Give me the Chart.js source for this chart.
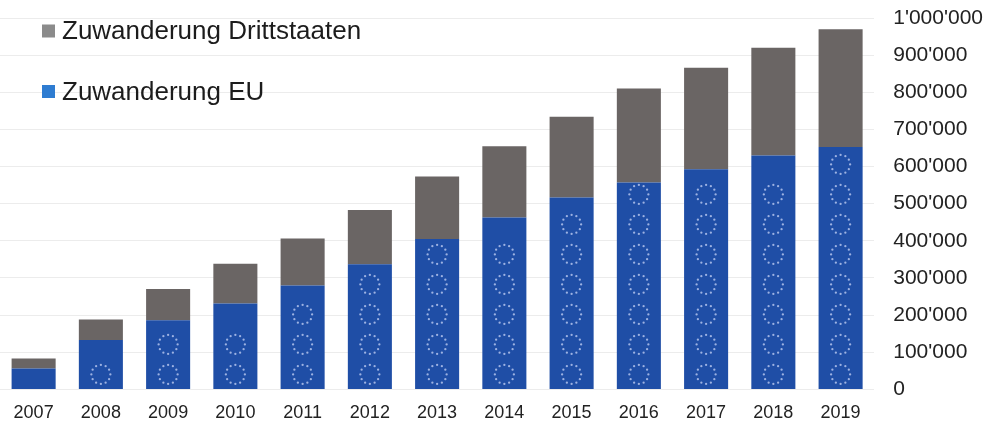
<!DOCTYPE html>
<html>
<head>
<meta charset="utf-8">
<script src="https://cdn.jsdelivr.net/npm/chart.js@4"></script>
<style>
  html, body { margin: 0; padding: 0; background: #ffffff; }
  #wrap { width: 1003px; height: 425px; position: relative; }
</style>
</head>
<body>
<div id="wrap"><canvas id="c"></canvas></div>
<script>
const years = ['2007','2008','2009','2010','2011','2012','2013','2014','2015','2016','2017','2018','2019'];
const euValues = [56000,133000,186000,231000,280000,337000,405000,463000,517000,557000,593000,630000,653000];
const drittValues = [27000,55000,84000,107000,126000,146000,168000,192000,217000,253000,273000,290000,317000];
const seriesLabels = ['Zuwanderung EU', 'Zuwanderung Drittstaaten'];
const yMin = 0, yMax = 1000000, yStep = 100000;

function fmt(v) {
  return String(v).replace(/\B(?=(\d{3})+(?!\d))/g, "'");
}

const euStars = {
  id: 'euStars',
  afterDatasetsDraw(chart) {
    const meta = chart.getDatasetMeta(0);
    const ctx = chart.ctx;
    ctx.save();
    ctx.fillStyle = '#9db2e2';
    meta.data.forEach(el => {
      const p = el.getProps(['x', 'y', 'base', 'width'], true);
      const ringR = 9.5;
      let cy = p.base - 14.5;
      while (cy - ringR - 1.5 >= p.y) {
        for (let i = 0; i < 12; i++) {
          const a = i * Math.PI / 6;
          ctx.beginPath();
          ctx.arc(p.x + ringR * Math.cos(a), cy + ringR * Math.sin(a), 1.15, 0, Math.PI * 2);
          ctx.fill();
        }
        cy -= 30;
      }
    });
    ctx.restore();
  }
};

const sideLegend = {
  id: 'sideLegend',
  afterDraw(chart, args, opts) {
    const ctx = chart.ctx;
    ctx.save();
    ctx.font = '26px "Liberation Sans", Arial, sans-serif';
    ctx.textBaseline = 'middle';
    ctx.textAlign = 'left';
    const order = [1, 0];
    order.forEach((di, row) => {
      const ds = chart.data.datasets[di];
      const cy = 31 + row * 60.5;
      ctx.fillStyle = opts.colors[di];
      ctx.fillRect(42, cy - 6.5, 13, 13);
      ctx.fillStyle = '#1c1c1c';
      ctx.fillText(ds.label, 62, cy + 1);
    });
    ctx.restore();
  }
};

new Chart(document.getElementById('c'), {
  type: 'bar',
  data: {
    labels: years,
    datasets: [
      { label: seriesLabels[0], data: euValues, backgroundColor: '#1f4ea6', borderWidth: 0 },
      { label: seriesLabels[1], data: drittValues, backgroundColor: '#6a6564', borderWidth: 0 }
    ]
  },
  plugins: [euStars, sideLegend],
  options: {
    responsive: true,
    maintainAspectRatio: false,
    animation: false,
    layout: { padding: { left: -2, right: 20, top: 18, bottom: -12 } },
    datasets: { bar: { barPercentage: 0.655, categoryPercentage: 1.0 } },
    plugins: {
      legend: { display: false },
      tooltip: { enabled: false },
      sideLegend: { colors: ['#2e7cd1', '#8b8b8b'] }
    },
    scales: {
      x: {
        stacked: true,
        grid: { display: false, drawTicks: false },
        border: { display: false },
        ticks: {
          color: '#222222',
          padding: 13,
          font: { family: '"Liberation Sans", Arial, sans-serif', size: 18 }
        }
      },
      y: {
        stacked: true,
        position: 'right',
        min: yMin,
        max: yMax,
        grid: { color: '#ececec', lineWidth: 1, drawTicks: true, tickLength: 19, tickColor: 'rgba(0,0,0,0)' },
        border: { display: false },
        ticks: {
          stepSize: yStep,
          padding: 0,
          color: '#222222',
          font: { family: '"Liberation Sans", Arial, sans-serif', size: 21 },
          callback: (v) => fmt(v)
        }
      }
    }
  }
});
</script>
</body>
</html>
